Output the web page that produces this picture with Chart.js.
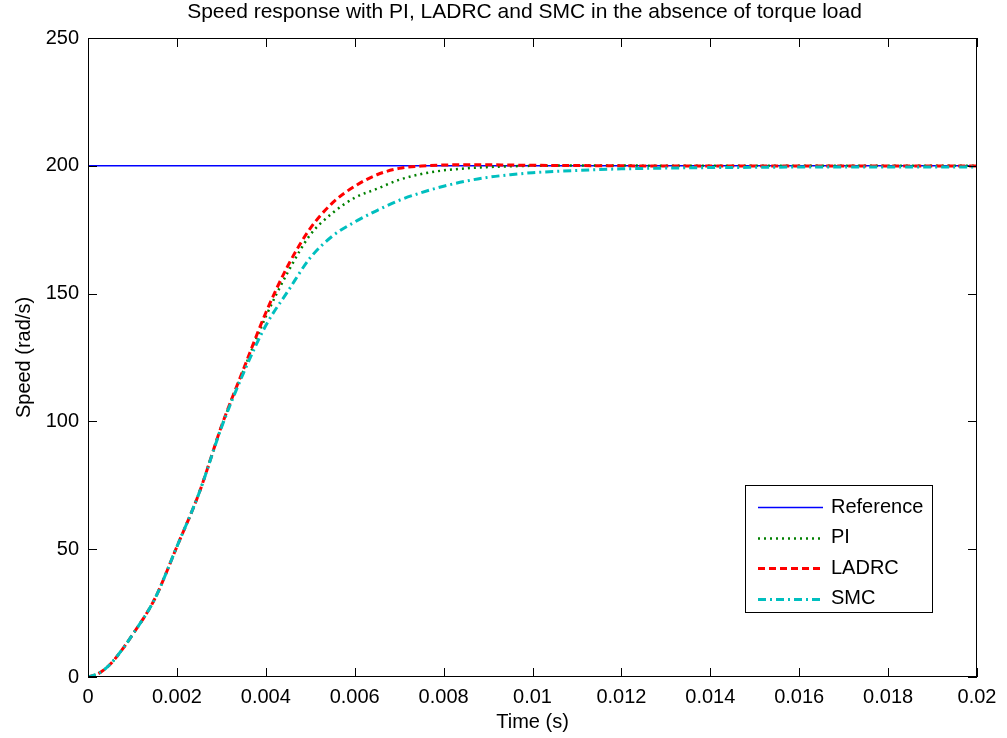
<!DOCTYPE html>
<html>
<head>
<meta charset="utf-8">
<script src="https://cdn.jsdelivr.net/npm/chart.js@4.4.1/dist/chart.umd.min.js"></script>
<style>
  body { margin: 0; background: #fff; }
  canvas { display: block; }
</style>
</head>
<body>
<canvas id="myChart" width="1007" height="738"></canvas>
<script>
// time samples (s)
var timeVals = [0, 0.00025, 0.0005, 0.00075, 0.001, 0.0015, 0.002, 0.0025, 0.003, 0.0035,
  0.004, 0.0045, 0.005, 0.0055, 0.006, 0.0065, 0.007, 0.0075, 0.008, 0.0085, 0.009, 0.0095,
  0.01, 0.011, 0.012, 0.013, 0.014, 0.015, 0.016, 0.017, 0.018, 0.019, 0.02];

// speed (rad/s)
var refVals = [200, 200, 200, 200, 200, 200, 200, 200, 200, 200,
  200, 200, 200, 200, 200, 200, 200, 200, 200, 200, 200, 200,
  200, 200, 200, 200, 200, 200, 200, 200, 200, 200, 200];
var piVals = [0, 1.5, 5, 10.3, 16.5, 30.5, 51, 72, 98, 120,
  141, 158.5, 173, 181.5, 187.5, 191, 194.5, 196.8, 198.2, 199, 199.5, 199.8,
  200, 200.1, 200.1, 200, 200, 200, 200, 200, 200, 200, 200];
var ladrcVals = [0, 1.5, 5, 10.3, 16.5, 30.5, 51, 72, 98, 120.5,
  142.5, 161, 175.5, 185.5, 192, 196.5, 199, 199.9, 200.3, 200.4, 200.4, 200.3,
  200.2, 200.1, 200, 199.9, 199.9, 199.9, 199.9, 199.9, 199.9, 199.9, 199.9];
var smcVals = [0, 1.5, 5, 10.3, 16.5, 30.5, 51, 72, 97.5, 119,
  137.5, 151, 164, 172.5, 178, 182.5, 186.5, 189.5, 192, 194, 195.5, 196.5,
  197.3, 198.2, 198.8, 199.1, 199.3, 199.4, 199.5, 199.5, 199.5, 199.5, 199.5];

var seriesLabels = ['Reference', 'PI', 'LADRC', 'SMC'];
var chartTitle = 'Speed response with PI, LADRC and SMC in the absence of torque load';
var xTitle = 'Time (s)';
var yTitle = 'Speed (rad/s)';

const FONT = 'Liberation Sans, Arial, sans-serif';

function toPoints(vals) {
    return vals.map((v, i) => ({ x: timeVals[i], y: v }));
}

// axes box with inward ticks (matlab look), title centred over the plot
const boxTicks = {
    id: 'boxTicks',
    afterDatasetsDraw(chart) {
        const { ctx, chartArea: a, scales: { x, y } } = chart;
        ctx.save();
        ctx.strokeStyle = '#000';
        ctx.lineWidth = 1;
        ctx.strokeRect(Math.round(a.left) + 0.5, Math.round(a.top) + 0.5,
            Math.round(a.width) - 1, Math.round(a.height) - 1);
        ctx.beginPath();
        x.ticks.forEach(t => {
            const px = Math.round(x.getPixelForValue(t.value)) + 0.5;
            ctx.moveTo(px, a.bottom); ctx.lineTo(px, a.bottom - 9);
            ctx.moveTo(px, a.top); ctx.lineTo(px, a.top + 9);
        });
        y.ticks.forEach(t => {
            const py = Math.round(y.getPixelForValue(t.value)) + 0.5;
            ctx.moveTo(a.left, py); ctx.lineTo(a.left + 9, py);
            ctx.moveTo(a.right, py); ctx.lineTo(a.right - 9, py);
        });
        ctx.stroke();

        ctx.fillStyle = '#000';
        ctx.font = '21px ' + FONT;
        ctx.textAlign = 'center';
        ctx.textBaseline = 'middle';
        ctx.fillText(chartTitle, (a.left + a.right) / 2 - 8, 12);
        ctx.restore();
    }
};

// legend box inside the plot, lower right
const boxLegend = {
    id: 'boxLegend',
    afterDraw(chart) {
        const { ctx } = chart;
        const bx = 745, by = 485, bw = 187, bh = 127;
        ctx.save();
        ctx.fillStyle = '#fff';
        ctx.fillRect(bx, by, bw, bh);
        ctx.strokeStyle = '#000';
        ctx.lineWidth = 1;
        ctx.strokeRect(bx + 0.5, by + 0.5, bw, bh);
        ctx.font = '20px ' + FONT;
        ctx.textBaseline = 'middle';
        ctx.fillStyle = '#000';
        chart.data.datasets.forEach((ds, i) => {
            const yy = by + 22 + i * 30.5;
            ctx.save();
            ctx.strokeStyle = ds.borderColor;
            ctx.lineWidth = ds.borderWidth;
            ctx.setLineDash(ds.borderDash || []);
            ctx.beginPath();
            ctx.moveTo(bx + 13, Math.round(yy) + 0.5);
            ctx.lineTo(bx + 78, Math.round(yy) + 0.5);
            ctx.stroke();
            ctx.restore();
            ctx.fillText(ds.label, bx + 86, yy);
        });
        ctx.restore();
    }
};

const ctx = document.getElementById('myChart').getContext('2d');
const chart = new Chart(ctx, {
    type: 'line',
    data: {
        datasets: [
            {
                label: seriesLabels[0],
                data: toPoints(refVals),
                borderColor: '#0000ff',
                borderWidth: 1.5,
                pointRadius: 0,
                fill: false,
                order: 3
            },
            {
                label: seriesLabels[1],
                data: toPoints(piVals),
                borderColor: '#008000',
                borderWidth: 2.5,
                borderDash: [2, 4],
                pointRadius: 0,
                fill: false,
                cubicInterpolationMode: 'monotone',
                order: 2
            },
            {
                label: seriesLabels[2],
                data: toPoints(ladrcVals),
                borderColor: '#ff0000',
                borderWidth: 3,
                borderDash: [7, 4],
                pointRadius: 0,
                fill: false,
                cubicInterpolationMode: 'monotone',
                order: 1
            },
            {
                label: seriesLabels[3],
                data: toPoints(smcVals),
                borderColor: '#00bfbf',
                borderWidth: 3,
                borderDash: [8, 4, 2, 4],
                pointRadius: 0,
                fill: false,
                cubicInterpolationMode: 'monotone',
                order: 0
            }
        ]
    },
    options: {
        responsive: false,
        animation: false,
        devicePixelRatio: 1,
        layout: { padding: { left: 0, right: 30, top: 38, bottom: 0 } },
        plugins: {
            legend: { display: false },
            tooltip: { enabled: false },
            title: { display: false }
        },
        scales: {
            x: {
                type: 'linear',
                min: 0,
                max: 0.02,
                grid: { display: false, drawTicks: false },
                border: { display: false },
                afterFit: (s) => { s.height = 61; },
                ticks: {
                    stepSize: 0.002,
                    padding: 8,
                    color: '#000',
                    maxRotation: 0,
                    font: { family: FONT, size: 20 },
                    callback: (v) => String(Number(v.toFixed(3)))
                },
                title: {
                    display: true,
                    text: xTitle,
                    color: '#000',
                    font: { family: FONT, size: 20, lineHeight: 1.2 },
                    padding: { top: 0, bottom: 4 }
                }
            },
            y: {
                min: 0,
                max: 250,
                grid: { display: false, drawTicks: false },
                border: { display: false },
                afterFit: (s) => { s.width = 88; },
                ticks: {
                    stepSize: 50,
                    padding: 9,
                    color: '#000',
                    font: { family: FONT, size: 20 }
                },
                title: {
                    display: true,
                    text: yTitle,
                    color: '#000',
                    font: { family: FONT, size: 20, lineHeight: 1.2 },
                    padding: { top: 12, bottom: 0 }
                }
            }
        }
    },
    plugins: [boxTicks, boxLegend]
});
</script>
</body>
</html>
